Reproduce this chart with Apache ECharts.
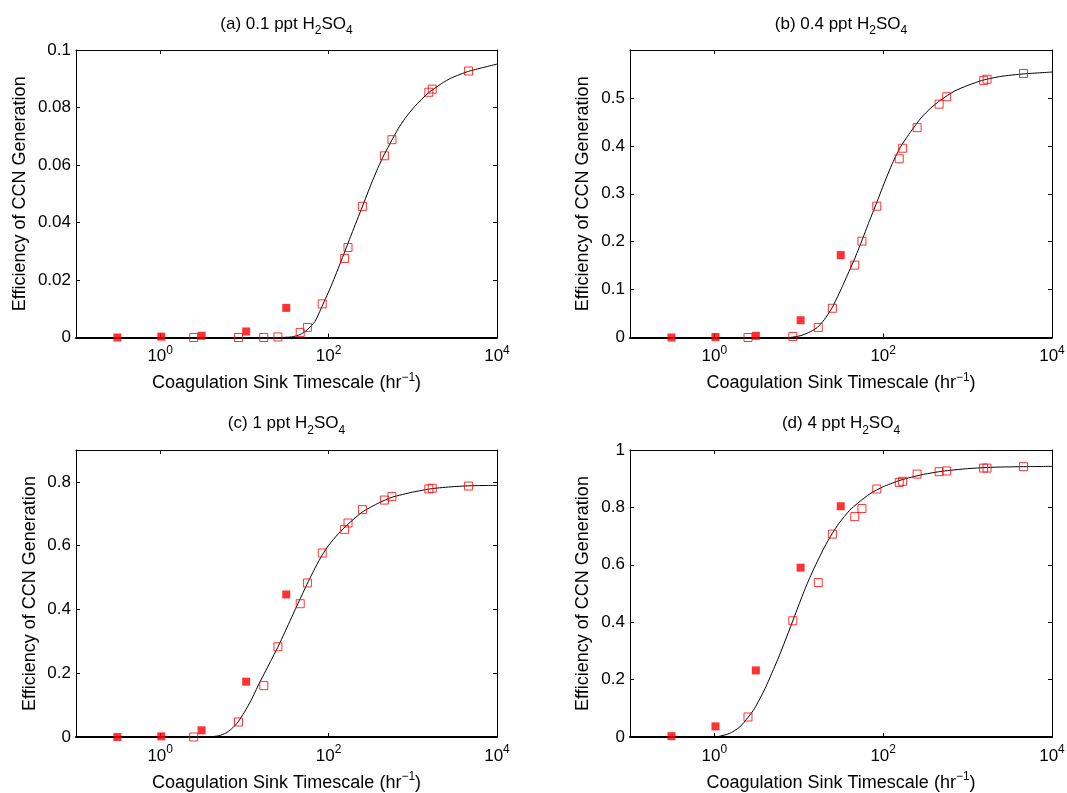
<!DOCTYPE html>
<html>
<head>
<meta charset="utf-8">
<script src="https://cdn.jsdelivr.net/npm/echarts@6/dist/echarts.min.js"></script>
<style>
html,body{margin:0;padding:0;background:#ffffff;}
#chart{width:1067px;height:793px;}
</style>
</head>
<body>
<div id="chart"></div>
<script>
// ---------------- DATA ----------------
const panelTitles = [
  '(a) 0.1 ppt H{sub|2}SO{sub|4}',
  '(b) 0.4 ppt H{sub|2}SO{sub|4}',
  '(c) 1 ppt H{sub|2}SO{sub|4}',
  '(d) 4 ppt H{sub|2}SO{sub|4}'
];
const xAxisTitle = 'Coagulation Sink Timescale (hr{sup|\u22121})';
const yAxisTitle = 'Efficiency of CCN Generation';
const xTickValues = [1, 100, 10000];
const xMin = 0.1;
const xMax = 10000;
const yMaxes = [0.1, 0.6, 0.9, 1];
const yIntervals = [0.02, 0.1, 0.2, 0.2];

// x positions of the markers (same in every panel)
const xOpen = [2.5, 8.5, 17, 25, 46, 56, 84, 155, 170, 252, 460, 565, 1550, 1700, 4600];
const xFilled = [0.31, 1.03, 3.1, 10.5, 31.4];

// panel (a)
const openA = [0, 0, 0, 0.0002, 0.0017, 0.0035, 0.0117, 0.0275, 0.0313, 0.0456, 0.0632, 0.0688, 0.0853, 0.0864, 0.0927];
const filledA = [0, 0.0003, 0.0006, 0.0021, 0.0103];
const curveAx = [0.1, 20, 25.3, 36.4, 45.7, 55.8, 68.9, 84.1, 108.6, 142.6, 187.5, 250.8, 323.6, 388, 457, 558, 670, 804, 1057, 1520, 2188, 2873, 4614, 10000];
const curveAy = [0, 0, 0, 0.0002, 0.001, 0.0027, 0.0056, 0.011, 0.0183, 0.027, 0.036, 0.0454, 0.0537, 0.0592, 0.0636, 0.0684, 0.0726, 0.0761, 0.0804, 0.085, 0.0883, 0.0903, 0.0926, 0.0951];

// panel (b)
const openB = [0, 0.002, 0.021, 0.061, 0.151, 0.201, 0.274, 0.373, 0.395, 0.438, 0.487, 0.5025, 0.536, 0.539, 0.551];
const filledB = [0, 0.001, 0.0035, 0.036, 0.172];
const curveBx = [0.1, 7.7, 10.6, 13.9, 16.6, 20, 24.6, 31.5, 37.8, 45.3, 55.3, 68.2, 83.4, 102.7, 129, 162, 213, 280, 367, 483, 695, 1000, 1520, 2485, 4528, 10000];
const curveBy = [0, 0, 0.004, 0.0125, 0.021, 0.037, 0.061, 0.0995, 0.131, 0.162, 0.2, 0.242, 0.2805, 0.322, 0.364, 0.399, 0.43, 0.458, 0.479, 0.496, 0.514, 0.526, 0.537, 0.545, 0.55, 0.554];

// panel (c)
const openC = [0, 0.047, 0.161, 0.283, 0.418, 0.483, 0.577, 0.651, 0.671, 0.713, 0.743, 0.754, 0.778, 0.780, 0.787];
const filledC = [0, 0.002, 0.021, 0.1735, 0.447];
const curveCx = [0.1, 3.6, 5, 6, 7, 8.4, 10, 12, 15, 20, 25.3, 30, 40, 50, 56.3, 70, 85, 100, 130, 171, 250, 400, 569, 1000, 1711, 3000, 5000, 10000];
const curveCy = [0, 0, 0.004, 0.012, 0.025, 0.047, 0.078, 0.115, 0.168, 0.232, 0.285, 0.327, 0.399, 0.454, 0.483, 0.533, 0.573, 0.601, 0.637, 0.668, 0.705, 0.735, 0.752, 0.768, 0.779, 0.785, 0.788, 0.789];

// panel (d)
const openD = [0.0697, 0.405, 0.538, 0.707, 0.768, 0.796, 0.864, 0.887, 0.891, 0.916, 0.9245, 0.927, 0.937, 0.937, 0.942];
const filledD = [0.003, 0.037, 0.232, 0.59, 0.804];
const curveDx = [0.1, 1, 1.5, 2, 2.5, 3, 4, 5, 6, 8, 10, 12, 15, 20, 25, 30, 40, 50, 70, 100, 150, 200, 300, 500, 1000, 2000, 5000, 10000];
const curveDy = [0, 0, 0.012, 0.035, 0.068, 0.10, 0.17, 0.235, 0.29, 0.385, 0.46, 0.52, 0.585, 0.66, 0.71, 0.745, 0.79, 0.815, 0.848, 0.872, 0.892, 0.903, 0.915, 0.926, 0.935, 0.94, 0.942, 0.943];

const openSets = [openA, openB, openC, openD];
const filledSets = [filledA, filledB, filledC, filledD];
const curveXs = [curveAx, curveBx, curveCx, curveDx];
const curveYs = [curveAy, curveBy, curveCy, curveDy];

// ---------------- LAYOUT / STYLE ----------------
const FONT = "'Liberation Sans', Arial, Helvetica, sans-serif";
const RED = '#ff0000';
const grids = [
  {left: 76, top: 50, width: 421, height: 287.5},
  {left: 630, top: 50, width: 422, height: 287.5},
  {left: 76, top: 450, width: 421, height: 287},
  {left: 630, top: 450, width: 422, height: 287}
];
const titleTops = [11, 11, 410.5, 410.5];
const yNameGaps = [47, 38, 37, 38];

const pair = (xs, ys) => xs.map((x, i) => [x, ys[i]]);

const option = {
  backgroundColor: '#ffffff',
  animation: false,
  textStyle: {fontFamily: FONT, color: '#000'},
  title: [],
  grid: [],
  xAxis: [],
  yAxis: [],
  series: []
};

grids.forEach((g, i) => {
  option.grid.push(Object.assign({containLabel: false, outerBoundsMode: 'none'}, g));
  option.title.push({
    text: panelTitles[i],
    left: g.left + g.width / 2,
    top: titleTops[i],
    textAlign: 'center',
    padding: 0,
    textStyle: {
      fontFamily: FONT, fontSize: 17, fontWeight: 'normal', color: '#000',
      rich: {sub: {fontFamily: FONT, fontSize: 12, color: '#000', padding: [14, 0, 0, 0]}}
    }
  });
  // bottom (main) log axis
  option.xAxis.push({
    type: 'log', logBase: 10, gridIndex: i, min: xMin, max: xMax, position: 'bottom',
    name: xAxisTitle, nameLocation: 'middle', nameGap: 34,
    nameTextStyle: {
      fontFamily: FONT, fontSize: 18, color: '#000',
      rich: {sup: {fontFamily: FONT, fontSize: 12, color: '#000', padding: [0, 0, 12, 0]}}
    },
    axisLine: {show: true, onZero: false, lineStyle: {color: '#000', width: 2}},
    axisTick: {show: true, inside: true, length: 4, customValues: xTickValues, lineStyle: {color: '#000'}},
    axisLabel: {
      show: true, margin: 7, customValues: xTickValues,
      fontFamily: FONT, fontSize: 17, color: '#000',
      formatter: v => '10{sup|' + Math.round(Math.log10(v)) + '}',
      rich: {sup: {fontFamily: FONT, fontSize: 12, color: '#000', padding: [0, 0, 12, 0]}}
    },
    splitLine: {show: false}
  });
  // top mirror axis
  option.xAxis.push({
    type: 'log', logBase: 10, gridIndex: i, min: xMin, max: xMax, position: 'top',
    axisLine: {show: true, onZero: false, lineStyle: {color: '#000', width: 1}},
    axisTick: {show: true, inside: true, length: 4, customValues: xTickValues, lineStyle: {color: '#000'}},
    axisLabel: {show: false},
    splitLine: {show: false}
  });
  // left (main) value axis
  option.yAxis.push({
    type: 'value', gridIndex: i, min: 0, max: yMaxes[i], interval: yIntervals[i], position: 'left',
    name: yAxisTitle, nameLocation: 'middle', nameGap: yNameGaps[i],
    nameTextStyle: {fontFamily: FONT, fontSize: 18, color: '#000'},
    axisLine: {show: true, onZero: false, lineStyle: {color: '#000', width: 1}},
    axisTick: {show: true, inside: true, length: 4, lineStyle: {color: '#000'}},
    axisLabel: {
      show: true, margin: 5, fontFamily: FONT, fontSize: 17, color: '#000',
      showMaxLabel: (i === 0 || i === 3)
    },
    splitLine: {show: false}
  });
  // right mirror axis
  option.yAxis.push({
    type: 'value', gridIndex: i, min: 0, max: yMaxes[i], interval: yIntervals[i], position: 'right',
    axisLine: {show: true, onZero: false, lineStyle: {color: '#000', width: 1}},
    axisTick: {show: true, inside: true, length: 4, lineStyle: {color: '#000'}},
    axisLabel: {show: false},
    splitLine: {show: false}
  });

  const xi = i * 2, yi = i * 2;
  option.series.push({
    type: 'line', xAxisIndex: xi, yAxisIndex: yi,
    data: pair(curveXs[i], curveYs[i]),
    showSymbol: false, smooth: 0.2,
    lineStyle: {color: '#000', width: 1},
    emphasis: {disabled: true}, silent: true, z: 2
  });
  option.series.push({
    type: 'scatter', xAxisIndex: xi, yAxisIndex: yi,
    data: pair(xOpen, openSets[i]),
    symbol: 'rect', symbolSize: 8,
    itemStyle: {color: 'rgba(255,255,255,0)', borderColor: RED, borderWidth: 1},
    emphasis: {disabled: true}, silent: true, z: 3
  });
  option.series.push({
    type: 'scatter', xAxisIndex: xi, yAxisIndex: yi,
    data: pair(xFilled, filledSets[i]),
    symbol: 'rect', symbolSize: 8,
    itemStyle: {color: RED, borderWidth: 0},
    emphasis: {disabled: true}, silent: true, z: 3
  });
});

const chart = echarts.init(document.getElementById('chart'), null, {renderer: 'canvas'});
chart.setOption(option);
</script>
</body>
</html>
